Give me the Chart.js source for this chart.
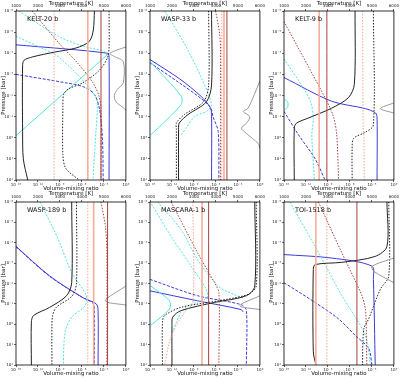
<!DOCTYPE html>
<html>
<head>
<meta charset="utf-8">
<script src="https://cdn.jsdelivr.net/npm/chart.js@4"></script>
<style>
  body { margin: 0; background: #fff; }
  #wrap { position: relative; width: 400px; height: 379px; overflow: hidden; }
  canvas { position: absolute; }
</style>
</head>
<body>
<div id="wrap">
  <canvas id="p1"></canvas><canvas id="p2"></canvas><canvas id="p3"></canvas>
  <canvas id="p4"></canvas><canvas id="p5"></canvas><canvas id="p6"></canvas>
</div>
<script>
// tick values
const vmrTicks = [1e-15, 1e-12, 1e-9, 1e-6, 1e-3, 1];
const pressureTicks = [1e-6, 1e-5, 1e-4, 1e-3, 1e-2, 1e-1, 1, 10, 100];
const tempTicks = [1000, 2000, 3000, 4000, 5000, 6000];
const panelNames = ['KELT-20 b', 'WASP-33 b', 'KELT-9 b', 'WASP-189 b', 'MASCARA-1 b', 'TOI-1518 b'];

// profiles: [log10 VMR, log10 P]   (grey ones: [T in K, log10 P])
// KELT-20 b
const k20Black = [[-4.3,-6],[-4.45,-5.1],[-5.0,-4.56],[-6.8,-4.25],[-9.8,-4.05],[-12.7,-3.83],[-13.9,-3.67],[-14.1,-3.4],[-14.1,-0.3],[-14.0,1.0],[-13.4,2]];
const k20BlackDot = [[-2.3,-6],[-2.3,-4.3],[-2.5,-3.8],[-3.6,-3.2],[-5.9,-2.6],[-7.9,-2.3],[-8.5,-2.05],[-8.6,-1.5],[-8.6,0.8],[-8.2,1.45],[-6.4,2]];
const k20Blue = [[-15,-4.4],[-2.5,-4.0],[-2.3,-3.8],[-2.3,2]];
const k20BlueDash = [[-15,-3],[-8.2,-2.6],[-5.7,-2.4],[-4.3,-2.05],[-3.6,-1.35],[-3.2,0.05],[-3.1,2]];
const k20CyanDot = [[-14.6,-6],[-9.2,-4.8],[-5.5,-4.3],[-3,-4.1],[-2.6,-3.9]];
const k20CyanDot2 = [[-15,-4.8],[-12.1,-4.34],[-9.2,-3.83],[-5,-2.38],[-4,-1.83],[-3.9,-1.36],[-4.1,-0.27],[-4.5,2]];
const k20Cyan = [[-15,-0.1],[-2.3,-4.0]];
const k20BrownDot = [[-12.8,-6],[-9.2,-4.5],[-6.5,-3.5],[-4.5,-2.6],[-3.7,-2],[-3.4,-1.4],[-3.4,2]];
const k20Brown = [[-3.4,-6],[-3.4,2]];
const k20Salmon = [[-5.2,-6],[-5.2,2]];
const k20SalmonDot = [[-9.8,-6],[-9.8,2]];
const k20Grey = [[6000,-4.3],[5270,-4.0],[5470,-3.85],[5880,-3.6],[5880,-2.6],[5620,-2.3],[5470,-2.0],[5550,-1.7],[5850,-1.45],[6000,-1.3]];

// WASP-33 b
const w33Black = [[-6.6,-6],[-6.6,-2.5],[-7.3,-1.7],[-9.8,-1.1],[-11,-0.7],[-11.1,-0.4],[-11.1,2]];
const w33BlackDot = [[-7,-6],[-7,-2.5],[-7.7,-1.7],[-10.3,-1.1],[-11.4,-0.7],[-11.4,-0.4],[-11.4,2]];
const w33Cyan = [[-14.9,-3.57],[-10.75,-1.97],[-10.75,-1.57],[-14.9,-0.13]];
const w33CyanDot = [[-13,-6],[-10.3,-4.45],[-8,-2.85],[-6.6,-1.57],[-7.3,-1.25],[-8.9,-1.0],[-10.1,-0.45],[-10.75,-0.13]];
const w33Blue = [[-15,-3.7],[-11,-2.8],[-8,-1.95],[-6.8,-1.45],[-6.6,-1.1],[-6.6,2]];
const w33BlueDash = [[-15,-3.55],[-11,-2.6],[-8,-1.85],[-6.7,-1.4],[-6.4,-1.0],[-5.7,-0.3],[-5.6,2]];
const w33BrownDot = [[-6.05,-6],[-5.5,-4.93],[-5.37,-3.97],[-5.37,2]];
const w33Brown = [[-4.5,-6],[-4.5,2]];
const w33Salmon = [[-4.9,-6],[-4.9,2]];
const w33SalmonDot = [[-5.2,-6],[-5.2,2]];
const w33Grey = [[6000,-2.69],[5465,-1.4],[5240,-1.25],[5540,-1.0],[5390,-0.69],[5160,-0.45],[5390,-0.2],[5920,0.27],[6000,0.5]];

// KELT-9 b
const k9Black = [[-5.3,-6],[-5.4,-2.53],[-6.2,-1.9],[-8.5,-1.4],[-11.7,-0.93],[-13.3,-0.69],[-13.6,-0.45],[-13.6,2]];
const k9BlackDot = [[-2.8,-6],[-2.8,-0.6],[-3.9,-0.26],[-5.5,0.03],[-5.7,0.5],[-5.7,2]];
const k9Blue = [[-15,-2.85],[-8.5,-1.73],[-3.9,-1.38],[-2.5,-1.17],[-2.3,-0.93],[-2.3,2]];
const k9BlueDash = [[-15,-1.25],[-13,-0.13],[-10.75,1.0],[-9.4,2]];
const k9CyanDot = [[-15,-3.73],[-13,-2.7],[-11.4,-1.73],[-11,-0.93],[-11.2,-0.13],[-10.85,2]];
const k9Cyan = [[-14.9,-1.8],[-14.5,-1.7],[-14.5,-1.44],[-14.9,-1.33]];
const k9BrownDot = [[-15,-5.5],[-9.15,-1.73],[-8.25,-1.0],[-7.8,-0.13],[-7.55,2]];
const k9Brown = [[-9.15,-6],[-9.15,2]];
const k9Salmon = [[-10.2,-6],[-10.2,2]];
const k9SalmonDot = [[-4.27,-6],[-4.2,-0.5],[-4.1,-0.13],[-4.05,2]];
const k9Grey = [[6000,-1.65],[5390,-1.38],[6000,-1.17]];

// WASP-189 b
const w189Black = [[-7.4,-6],[-7.4,-2.04],[-8.1,-1.4],[-10.4,-0.83],[-12.6,-0.43],[-12.9,-0.1],[-12.9,2]];
const w189BlackDot = [[-6.75,-6],[-6.75,-2.04],[-7.3,-1.4],[-9.5,-0.83],[-10,-0.43],[-10.1,0.06],[-10.1,2]];
const w189Blue = [[-15,-3.82],[-10.4,-2.37],[-5.85,-1.3],[-4.05,-1.0],[-3.8,-0.67],[-3.8,2]];
const w189BlueDash = [[-15,-3.8],[-10.4,-2.35],[-5.85,-1.3],[-4.5,-1.04],[-4.3,-0.7],[-4.3,2]];
const w189CyanDot = [[-11.7,-6],[-9.2,-4.14],[-7.4,-2.53],[-5.4,-1.4],[-5.6,-0.9],[-7.4,-0.35],[-8.3,0.38],[-8.55,2]];
const w189BrownDot = [[-3.4,-6],[-2.8,-4.8],[-2.6,-3.5],[-2.6,2]];
const w189Brown = [[-2.5,-6],[-2.5,2]];
const w189Salmon = [[-4.4,-6],[-4.4,2]];
const w189SalmonDot = [[-5.2,-6],[-5.2,2]];
const w189Grey = [[6000,-1.88],[5070,-1.15],[6000,-0.94]];

// MASCARA-1 b
const m1Black = [[-0.7,-6],[-0.7,-1.88],[-1.85,-1.4],[-6.2,-1.07],[-10.75,-0.67],[-11.9,-0.35],[-12,0.06],[-12,2]];
const m1BlackDot = [[-0.5,-6],[-0.5,-1.88],[-1.6,-1.47],[-5.7,-1.15],[-10.75,-0.83],[-13,-0.43],[-13.3,-0.1],[-13.3,2]];
const m1Blue = [[-15,-1.64],[-8.5,-1.15],[-2.55,-0.72],[-2.3,-0.6]];
const m1BlueDash = [[-15,-2.2],[-8.5,-1.4],[-2.55,-0.96],[-1.85,-0.67],[-1.85,2]];
const m1CyanDot = [[-13.95,-6],[-10.75,-4.63],[-8.5,-3.17],[-5.7,-1.88],[-3.9,-1.52],[-2.1,-1.27]];
const m1CyanDot2 = [[-14.8,-5.9],[-12.1,-4.3],[-9.4,-2.85],[-7.1,-1.4],[-9.8,-0.9],[-10.75,-0.6],[-11.4,-0.1],[-11.9,0.38]];
const m1Cyan = [[-14.9,-1.88],[-12.35,-1.15],[-12.35,-0.75],[-14.9,0.06]];
const m1BrownDot = [[-12.1,-6],[-8.5,-3.5],[-6.2,-2.04],[-5.6,-1.56],[-5.6,2]];
const m1Brown = [[-7.0,-6],[-7.0,2]];
const m1Salmon = [[-7.9,-6],[-7.9,2]];
const m1SalmonDot = [[-9.15,-6],[-9.15,-1.07],[-10.3,-0.59],[-11.65,0.22],[-12.35,0.87],[-13,2]];
const m1Grey = [[6000,-1.4],[5085,-0.91],[6000,-0.72]];

// TOI-1518 b
const t1518Black = [[-0.95,-6],[-0.95,-3.82],[-2.55,-3.33],[-7.1,-3.04],[-10.75,-2.93],[-11,-2.69],[-11,1.35],[-10.65,2]];
const t1518BlackDot = [[-0.7,-6],[-0.7,-2.37],[-1.85,-1.72],[-3.45,-0.26],[-4.1,0.22],[-4.3,2]];
const t1518Blue = [[-15,-3.42],[-8.5,-3.25],[-3,-2.85],[-2.8,-2.2],[-2.55,2]];
const t1518BlueDash = [[-15,-2.04],[-10.75,-1.07],[-7.55,-0.26],[-5.3,0.54],[-3.45,1.19],[-3,2]];
const t1518CyanDot = [[-14.2,-6],[-10.75,-3.82],[-7.1,-1.4],[-3.9,0.54],[-3.2,2]];
const t1518BrownDot = [[-10.3,-6],[-7.1,-3.5],[-4.36,-1.4],[-3.9,-0.75],[-3.8,-0.26],[-3.7,2]];
const t1518Brown = [[-5.05,-6],[-5.05,2]];
const t1518Salmon = [[-10.65,-6],[-10.65,2]];
const t1518SalmonDot = [[-9.15,-6],[-9.15,2]];
const t1518Grey = [[6000,-3.25],[5010,-2.85],[5085,-2.6],[6000,-2.04]];

const styles = {
    black:     { color: '#222222', dash: [], width: 1 },
    blackDot:  { color: '#222222', dash: [1.5, 1.5], width: 1 },
    blue:      { color: '#3b3bdc', dash: [], width: 1 },
    blueDash:  { color: '#3b3bdc', dash: [3, 1.5], width: 1 },
    cyan:      { color: '#4fe3e0', dash: [], width: 1 },
    cyanDot:   { color: '#4fe3e0', dash: [2, 1.5], width: 1 },
    brown:     { color: '#a6403d', dash: [], width: 1 },
    brownDot:  { color: '#a6403d', dash: [1.5, 1.5], width: 1 },
    salmon:    { color: '#f8ad98', dash: [], width: 1.6 },
    salmonDot: { color: '#f7a58e', dash: [1.5, 1.5], width: 1 },
    grey:      { color: '#9a9a9a', dash: [], width: 1, temp: true }
};

const panelSeries = [
    [[k20SalmonDot,'salmonDot'],[k20Salmon,'salmon'],[k20Brown,'brown'],[k20BrownDot,'brownDot'],[k20Grey,'grey'],[k20Black,'black'],[k20BlackDot,'blackDot'],[k20CyanDot,'cyanDot'],[k20CyanDot2,'cyanDot'],[k20Cyan,'cyan'],[k20Blue,'blue'],[k20BlueDash,'blueDash']],
    [[w33SalmonDot,'salmonDot'],[w33Salmon,'salmon'],[w33Brown,'brown'],[w33BrownDot,'brownDot'],[w33Grey,'grey'],[w33Black,'black'],[w33BlackDot,'blackDot'],[w33CyanDot,'cyanDot'],[w33Cyan,'cyan'],[w33Blue,'blue'],[w33BlueDash,'blueDash']],
    [[k9SalmonDot,'salmonDot'],[k9Salmon,'salmon'],[k9Brown,'brown'],[k9BrownDot,'brownDot'],[k9Grey,'grey'],[k9Black,'black'],[k9BlackDot,'blackDot'],[k9CyanDot,'cyanDot'],[k9Cyan,'cyan'],[k9Blue,'blue'],[k9BlueDash,'blueDash']],
    [[w189SalmonDot,'salmonDot'],[w189Salmon,'salmon'],[w189Brown,'brown'],[w189BrownDot,'brownDot'],[w189Grey,'grey'],[w189Black,'black'],[w189BlackDot,'blackDot'],[w189CyanDot,'cyanDot'],[w189Blue,'blue'],[w189BlueDash,'blueDash']],
    [[m1SalmonDot,'salmonDot'],[m1Salmon,'salmon'],[m1Brown,'brown'],[m1BrownDot,'brownDot'],[m1Grey,'grey'],[m1Black,'black'],[m1BlackDot,'blackDot'],[m1CyanDot,'cyanDot'],[m1CyanDot2,'cyanDot'],[m1Cyan,'cyan'],[m1Blue,'blue'],[m1BlueDash,'blueDash']],
    [[t1518SalmonDot,'salmonDot'],[t1518Salmon,'salmon'],[t1518Brown,'brown'],[t1518BrownDot,'brownDot'],[t1518Grey,'grey'],[t1518Black,'black'],[t1518BlackDot,'blackDot'],[t1518CyanDot,'cyanDot'],[t1518Blue,'blue'],[t1518BlueDash,'blueDash']]
];

const SUP = { '-': '⁻', '0': '⁰', '1': '¹', '2': '²', '3': '³', '4': '⁴', '5': '⁵', '6': '⁶', '7': '⁷', '8': '⁸', '9': '⁹' };
function powLabel(v) {
    const e = String(Math.round(Math.log10(v)));
    return '10' + e.split('').map(c => SUP[c]).join('');
}

const FONT = 'DejaVu Sans';
const tickFont = { family: FONT, size: 4 };
const titleFont = { family: FONT, size: 5.5 };

// frame + planet name
const framePlugin = {
    id: 'frame',
    afterDraw(chart, args, opts) {
        const { ctx, chartArea: a } = chart;
        ctx.save();
        ctx.strokeStyle = '#000';
        ctx.lineWidth = 0.8;
        ctx.strokeRect(a.left, a.top, a.right - a.left, a.bottom - a.top);
        ctx.fillStyle = '#111';
        ctx.font = '6.5px ' + FONT;
        ctx.textBaseline = 'middle';
        ctx.fillText(opts.name, a.left + 11, a.top + 8);
        ctx.restore();
    }
};

function axisGrid() {
    return { display: true, drawOnChartArea: false, drawTicks: true, tickLength: 2, color: '#000', lineWidth: 0.6 };
}

function makePanel(idx) {
    const row = Math.floor(idx / 3);
    const col = idx % 3;
    const canvas = document.getElementById('p' + (idx + 1));
    const left = [0, 134, 268][col];
    const top = row === 0 ? 0 : 190;
    const topH = row === 0 ? 11 : 12;
    const plotH = row === 0 ? 169 : 163;
    const bottomH = 12;
    const W = 16 + 110 + 6;
    const H = topH + plotH + bottomH;
    canvas.width = W; canvas.height = H;
    canvas.style.left = left + 'px'; canvas.style.top = top + 'px';
    canvas.style.width = W + 'px'; canvas.style.height = H + 'px';

    const datasets = panelSeries[idx].map(([pts, key]) => {
        const s = styles[key];
        return {
            data: pts.map(([a, b]) => ({ x: s.temp ? a : Math.pow(10, a), y: Math.pow(10, b) })),
            xAxisID: s.temp ? 'xT' : 'x',
            borderColor: s.color,
            borderDash: s.dash,
            borderWidth: s.width,
            pointRadius: 0,
            fill: false,
            tension: 0.3
        };
    });

    new Chart(canvas.getContext('2d'), {
        type: 'line',
        data: { datasets },
        options: {
            responsive: false,
            animation: false,
            events: [],
            layout: { padding: { left: 0, right: 6, top: 0, bottom: 0 } },
            plugins: { legend: { display: false }, tooltip: { enabled: false }, frame: { name: panelNames[idx] } },
            scales: {
                x: {
                    type: 'logarithmic', position: 'bottom', min: 1e-15, max: 1,
                    afterBuildTicks: s => { s.ticks = vmrTicks.map(v => ({ value: v })); },
                    afterFit: s => { s.height = bottomH; },
                    ticks: { callback: v => powLabel(v), font: tickFont, color: '#222', maxRotation: 0, autoSkip: false, padding: 1 },
                    title: { display: true, text: 'Volume-mixing ratio', font: titleFont, color: '#111', padding: 0 },
                    grid: axisGrid(),
                    border: { display: false }
                },
                xT: {
                    type: 'linear', position: 'top', min: 1000, max: 6000,
                    afterBuildTicks: s => { s.ticks = tempTicks.map(v => ({ value: v })); },
                    afterFit: s => { s.height = topH; },
                    ticks: { callback: v => String(v), font: tickFont, color: '#222', maxRotation: 0, autoSkip: false, padding: 1 },
                    title: { display: true, text: 'Temperature [K]', font: titleFont, color: '#111', padding: 0 },
                    grid: axisGrid(),
                    border: { display: false }
                },
                y: {
                    type: 'logarithmic', reverse: true, min: 1e-6, max: 100,
                    afterBuildTicks: s => { s.ticks = pressureTicks.map(v => ({ value: v })); },
                    afterFit: s => { s.width = 16; },
                    ticks: { callback: v => powLabel(v), font: tickFont, color: '#222', autoSkip: false, padding: 1 },
                    title: { display: true, text: 'Pressure [bar]', font: titleFont, color: '#111', padding: 0 },
                    grid: axisGrid(),
                    border: { display: false }
                }
            }
        },
        plugins: [framePlugin]
    });
}

for (let i = 0; i < 6; i++) makePanel(i);
</script>
</body>
</html>
